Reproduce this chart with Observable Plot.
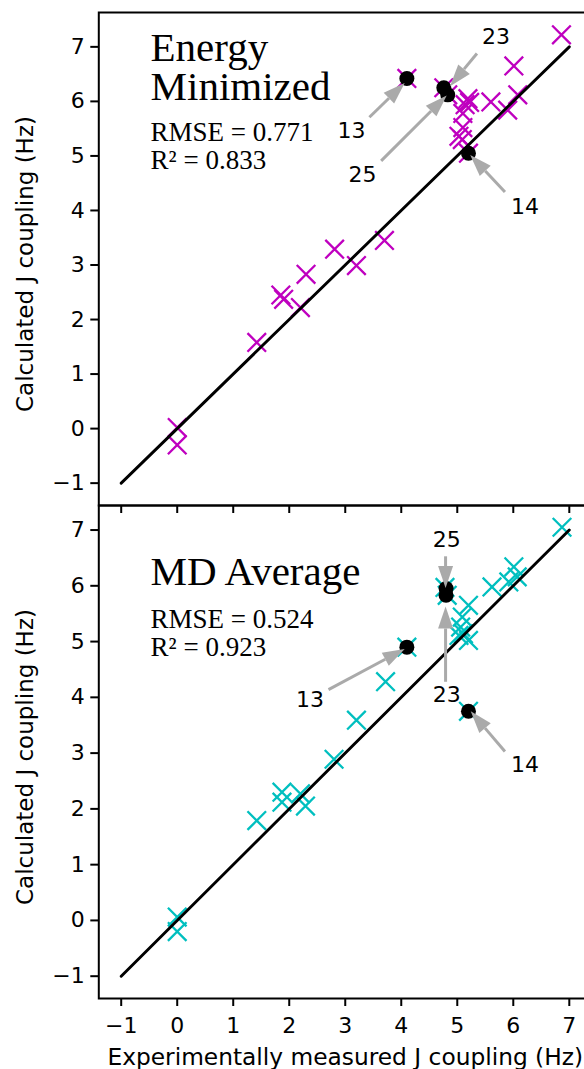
<!DOCTYPE html>
<html><head><meta charset="utf-8">
<script src="https://cdn.jsdelivr.net/npm/d3@7"></script>
<script src="https://cdn.jsdelivr.net/npm/@observablehq/plot@0.6"></script>
<style>
html,body{margin:0;padding:0;background:#fff;overflow:hidden;}
#chart svg{display:block;overflow:visible;}
#chart svg + svg{margin-top:-8px;}
</style></head><body><div id="chart"></div><script>
// ---------- data ----------
const xTicks = [-1, 0, 1, 2, 3, 4, 5, 6, 7];
const yTicks = [-1, 0, 1, 2, 3, 4, 5, 6, 7];
const identityLine = [-1, 7];
const xLabel = "Experimentally measured J coupling (Hz)";
const yLabel = "Calculated J coupling (Hz)";

// Energy minimized panel
const emTitle = "Energy\nMinimized";
const emStats = "RMSE = 0.771\nR² = 0.833";
const emExp  = [0, 0, 1.42, 1.85, 1.90, 2.20, 2.30, 2.81, 3.20, 3.70, 4.10, 4.76, 4.83, 5.03, 5.09, 5.10, 5.10, 5.14, 5.19, 5.22, 5.20, 5.60, 5.90, 6.01, 6.08, 6.86];
const emCalc = [0.02, -0.30, 1.58, 2.45, 2.37, 2.22, 2.83, 3.29, 2.99, 3.45, 6.42, 6.25, 6.12, 5.36, 5.30, 5.52, 5.78, 5.94, 6.05, 5.98, 5.05, 5.99, 5.84, 6.65, 6.12, 7.22];
const emHlExp  = [4.10, 4.76, 4.83, 5.20];
const emHlCalc = [6.42, 6.25, 6.12, 5.05];
const emAnnLabel = ["13", "25", "23", "14"];
const emAnnTextX = [3.11, 3.31, 5.69, 6.21];
const emAnnTextY = [5.46, 4.65, 7.19, 4.06];
const emAnnTailX = [3.44, 3.65, 5.36, 5.86];
const emAnnTailY = [5.70, 4.90, 6.87, 4.33];
const emAnnTipX  = [4.07, 4.82, 4.88, 5.24];
const emAnnTipY  = [6.33, 6.10, 6.27, 5.01];

// MD average panel
const mdTitle = "MD Average";
const mdStats = "RMSE = 0.524\nR² = 0.923";
const mdExp  = [0, 0, 1.42, 1.87, 1.87, 2.20, 2.29, 2.80, 3.20, 3.72, 4.10, 4.78, 4.82, 5.03, 5.06, 5.09, 5.11, 5.20, 5.20, 5.20, 5.62, 5.92, 6.01, 6.07, 6.87];
const mdCalc = [0.06, -0.20, 1.79, 2.30, 2.12, 2.27, 2.05, 2.89, 3.59, 4.28, 4.90, 5.97, 5.83, 5.11, 5.26, 5.44, 5.14, 5.02, 5.65, 3.75, 5.98, 6.07, 6.34, 6.16, 7.05];
const mdHlExp  = [4.10, 4.80, 4.80, 5.20];
const mdHlCalc = [4.90, 5.83, 5.95, 3.75];
const mdAnnLabel = ["13", "25", "23", "14"];
const mdAnnTextX = [2.37, 4.81, 4.81, 6.21];
const mdAnnTextY = [3.95, 6.82, 4.04, 2.78];
const mdAnnTailX = [2.71, 4.80, 4.80, 5.86];
const mdAnnTailY = [4.13, 6.52, 4.27, 3.02];
const mdAnnTipX  = [4.07, 4.80, 4.80, 5.25];
const mdAnnTipY  = [4.86, 5.95, 5.62, 3.74];

// ---------- drawing ----------
const SVGNS = "http://www.w3.org/2000/svg";
const crossSymbol = {
  draw(ctx, size) {
    const r = Math.sqrt(size / Math.PI);
    ctx.moveTo(-r, -r); ctx.lineTo(r, r);
    ctx.moveTo(-r, r); ctx.lineTo(r, -r);
  }
};

function arrowMark(ann, color) {
  return (index, scales) => {
    const sx = typeof scales.x === "function" ? scales.x : scales.scales.x.apply;
    const sy = typeof scales.y === "function" ? scales.y : scales.scales.y.apply;
    const g = document.createElementNS(SVGNS, "g");
    g.setAttribute("aria-label", "arrows");
    for (const a of ann) {
      const x1 = sx(a.tailX), y1 = sy(a.tailY), x2 = sx(a.tipX), y2 = sy(a.tipY);
      const dx = x2 - x1, dy = y2 - y1, len = Math.hypot(dx, dy);
      const ux = dx / len, uy = dy / len;
      const hl = 22, hw = 7.5;
      const bx = x2 - ux * hl, by = y2 - uy * hl;
      const line = document.createElementNS(SVGNS, "line");
      line.setAttribute("x1", x1); line.setAttribute("y1", y1);
      line.setAttribute("x2", bx); line.setAttribute("y2", by);
      line.setAttribute("stroke", color); line.setAttribute("stroke-width", 3);
      g.appendChild(line);
      const poly = document.createElementNS(SVGNS, "polygon");
      const pts = [[x2, y2], [bx - uy * hw, by + ux * hw], [bx + uy * hw, by - ux * hw]];
      poly.setAttribute("points", pts.map(p => p.join(",")).join(" "));
      poly.setAttribute("fill", color);
      g.appendChild(poly);
    }
    return g;
  };
}

function panel(opts) {
  const pts = opts.exp.map((e, i) => ({e, c: opts.calc[i]}));
  const hl = opts.hlExp.map((e, i) => ({e, c: opts.hlCalc[i]}));
  const ann = opts.annLabel.map((l, i) => ({
    label: l, tx: opts.annTextX[i], ty: opts.annTextY[i],
    tailX: opts.annTailX[i], tailY: opts.annTailY[i], tipX: opts.annTipX[i], tipY: opts.annTipY[i]
  }));
  const svg = Plot.plot({
    width: 584,
    height: opts.height,
    marginTop: opts.marginTop,
    marginBottom: opts.marginBottom,
    marginLeft: 98.3,
    marginRight: -7.2,
    style: {background: "transparent", overflow: "visible", fontFamily: "DejaVu Sans", fontSize: "22px", color: "black"},
    x: {domain: [-1.4, 7.4], range: [98.3, 591.2], ticks: xTicks, tickSize: 8, tickPadding: 11,
        tickFormat: opts.showX ? (d => d3.format("d")(d)) : (() => ""), label: null},
    y: {domain: opts.yDomain, ticks: yTicks, tickSize: 8, tickPadding: 6, label: null},
    marks: [
      Plot.dot(pts, {x: "e", y: "c", symbol: crossSymbol, r: 9.3, fill: "none", stroke: opts.color, strokeWidth: 2.3}),
      Plot.line(identityLine, {x: d => d, y: d => d, stroke: "black", strokeWidth: 2.9}),
      Plot.dot(hl, {x: "e", y: "c", r: 7.5, fill: "black", stroke: "none"}),
      arrowMark(ann, "#aaaaaa"),
      Plot.text(ann, {x: "tx", y: "ty", text: "label", fontFamily: "DejaVu Sans", fontSize: 22, fill: "black"}),
      Plot.text([opts.title], {x: () => -0.476, y: () => opts.titleY, text: d => d, textAnchor: "start",
        lineAnchor: "bottom", lineHeight: 0.96, fontFamily: "Liberation Serif", fontSize: 41, fill: "black"}),
      Plot.text([opts.stats], {x: () => -0.476, y: () => opts.statsY, text: d => d, textAnchor: "start",
        lineAnchor: "bottom", lineHeight: 1.03, fontFamily: "Liberation Serif", fontSize: 27, fill: "black"}),
      Plot.frame({stroke: "black", strokeWidth: 2}),
      Plot.text([yLabel], {frameAnchor: "left", text: d => d, rotate: -90, dx: -73.3, dy: 5,
        fontFamily: "DejaVu Sans", fontSize: 23, fill: "black", textAnchor: "middle", lineAnchor: "middle"}),
      ...(opts.showX ? [Plot.text([xLabel], {frameAnchor: "bottom", text: d => d, dy: 66,
        fontFamily: "DejaVu Sans", fontSize: 23.3, fill: "black", lineAnchor: "bottom"})] : [])
    ]
  });
  svg.querySelectorAll('g[aria-label$="axis"] line, g[aria-label$="tick"]').forEach(el => el.setAttribute("stroke-width", "2"));
  return svg;
}

const chart = document.getElementById("chart");
chart.appendChild(panel({
  exp: emExp, calc: emCalc, hlExp: emHlExp, hlCalc: emHlCalc,
  annLabel: emAnnLabel, annTextX: emAnnTextX, annTextY: emAnnTextY,
  annTailX: emAnnTailX, annTailY: emAnnTailY, annTipX: emAnnTipX, annTipY: emAnnTipY,
  title: emTitle, stats: emStats, titleY: 6.02, statsY: 4.756,
  color: "#bf00bf", yDomain: [-1.41, 7.63], height: 513, marginTop: 12, marginBottom: 8, showX: false
}));
chart.appendChild(panel({
  exp: mdExp, calc: mdCalc, hlExp: mdHlExp, hlCalc: mdHlCalc,
  annLabel: mdAnnLabel, annTextX: mdAnnTextX, annTextY: mdAnnTextY,
  annTailX: mdAnnTailX, annTailY: mdAnnTailY, annTipX: mdAnnTipX, annTipY: mdAnnTipY,
  title: mdTitle, stats: mdStats, titleY: 6.01, statsY: 4.75,
  color: "#00bfbf", yDomain: [-1.40, 7.44], height: 564, marginTop: 0, marginBottom: 71, showX: true
}));
</script></body></html>
